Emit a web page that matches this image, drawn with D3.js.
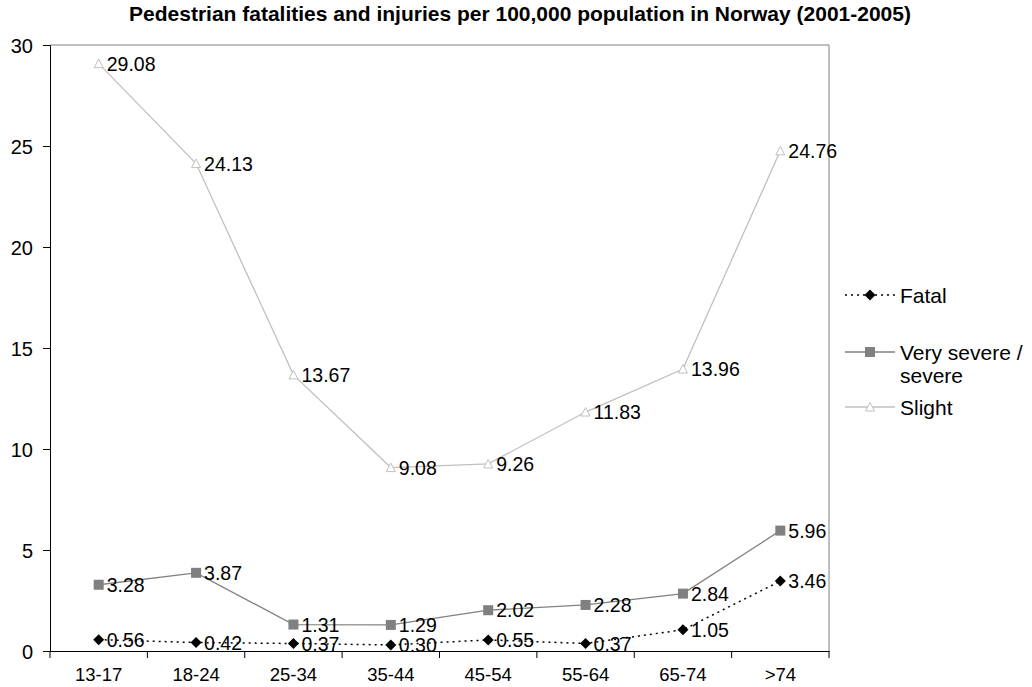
<!DOCTYPE html>
<html>
<head>
<meta charset="utf-8">
<script src="https://cdn.jsdelivr.net/npm/d3@7"></script>
<style>
  body { margin: 0; background: #fff; }
  svg { display: block; font-family: "Liberation Sans", Arial, sans-serif; }
</style>
</head>
<body>
<svg id="chart" width="1032" height="687"></svg>
<script>
// Age groups and rates per 100,000 population
const ageGroups = ["13-17", "18-24", "25-34", "35-44", "45-54", "55-64", "65-74", ">74"];
const fatal = [0.56, 0.42, 0.37, 0.30, 0.55, 0.37, 1.05, 3.46];
const severe = [3.28, 3.87, 1.31, 1.29, 2.02, 2.28, 2.84, 5.96];
const slight = [29.08, 24.13, 13.67, 9.08, 9.26, 11.83, 13.96, 24.76];
const yTicks = [0, 5, 10, 15, 20, 25, 30];
const seriesNames = ["Fatal", "Very severe / severe", "Slight"];

const FONT = "Liberation Sans, Arial, sans-serif";
const svg = d3.select("#chart");
const plot = { left: 50, top: 45, right: 829, bottom: 651 };

const x = d3.scaleBand().domain(ageGroups).range([plot.left, plot.right]);
const y = d3.scaleLinear().domain([0, 30]).range([plot.bottom, plot.top]);
const cx = d => x(d) + x.bandwidth() / 2;

// Title
svg.append("text")
  .attr("x", 520).attr("y", 21)
  .attr("text-anchor", "middle")
  .attr("font-size", 21).attr("font-weight", "bold")
  .text("Pedestrian fatalities and injuries per 100,000 population in Norway (2001-2005)");

// Plot frame (top and right edges)
svg.append("path")
  .attr("d", `M${plot.left},${plot.top}H${plot.right}V${plot.bottom}`)
  .attr("fill", "none").attr("stroke", "#808080").attr("stroke-width", 1);

// Y axis
const yAxis = svg.append("g")
  .attr("transform", `translate(${plot.left},0)`)
  .call(d3.axisLeft(y).tickValues(yTicks).tickSize(7).tickPadding(10));
yAxis.select(".domain").attr("stroke", "#000");
yAxis.selectAll(".tick line").attr("stroke", "#000");
yAxis.selectAll("text")
  .style("font-size", "20px").style("font-family", FONT)
  .attr("fill", "#000").attr("dy", "0.36em");

// X axis: ticks between categories
const xAxis = svg.append("g")
  .attr("transform", `translate(0,${plot.bottom})`)
  .call(d3.axisBottom(x).tickSize(0).tickPadding(17));
xAxis.select(".domain").attr("stroke", "#000");
xAxis.selectAll("text")
  .style("font-size", "18.5px").style("font-family", FONT)
  .attr("fill", "#000");
const boundaries = ageGroups.map(d => x(d)).concat([plot.right]);
xAxis.selectAll("line.sep").data(boundaries).enter().append("line")
  .attr("class", "sep")
  .attr("x1", d => d).attr("x2", d => d)
  .attr("y1", 0).attr("y2", 7)
  .attr("stroke", "#000");

const series = [
  { name: seriesNames[0], values: fatal, stroke: "#000", dash: "2,4", marker: "diamond" },
  { name: seriesNames[1], values: severe, stroke: "#808080", dash: null, marker: "square" },
  { name: seriesNames[2], values: slight, stroke: "#c0c0c0", dash: null, marker: "triangle" }
];

const line = d3.line().x((d, i) => cx(ageGroups[i])).y(d => y(d));

function drawMarker(g, type, px, py) {
  if (type === "diamond") {
    g.append("path")
      .attr("d", `M${px},${py - 5.5}L${px + 5.5},${py}L${px},${py + 5.5}L${px - 5.5},${py}Z`)
      .attr("fill", "#000");
  } else if (type === "square") {
    g.append("rect")
      .attr("x", px - 5).attr("y", py - 5).attr("width", 10).attr("height", 10)
      .attr("fill", "#808080");
  } else {
    g.append("path")
      .attr("d", `M${px},${py - 4.5}L${px + 4.5},${py + 4}L${px - 4.5},${py + 4}Z`)
      .attr("fill", "#fff").attr("stroke", "#c0c0c0").attr("stroke-width", 1);
  }
}

// Draw in reverse so Fatal sits on top
[...series].reverse().forEach(s => {
  const g = svg.append("g");
  g.append("path")
    .datum(s.values)
    .attr("d", line)
    .attr("fill", "none")
    .attr("stroke", s.stroke)
    .attr("stroke-width", s.dash ? 1.5 : 1.3)
    .attr("stroke-dasharray", s.dash);
  s.values.forEach((v, i) => drawMarker(g, s.marker, cx(ageGroups[i]), y(v)));
  g.selectAll("text.lbl").data(s.values).enter().append("text")
    .attr("class", "lbl")
    .attr("x", (d, i) => cx(ageGroups[i]) + 8)
    .attr("y", d => y(d) + 7)
    .attr("font-size", 19.5)
    .attr("fill", "#000")
    .text(d => d.toFixed(2));
});

// Legend
const legend = svg.append("g");
const legendRows = [
  { s: series[0], y: 295, lines: ["Fatal"] },
  { s: series[1], y: 352, lines: ["Very severe /", "severe"] },
  { s: series[2], y: 407, lines: ["Slight"] }
];
legendRows.forEach(r => {
  legend.append("line")
    .attr("x1", 845).attr("x2", 895).attr("y1", r.y).attr("y2", r.y)
    .attr("stroke", r.s.stroke).attr("stroke-width", r.s.dash ? 1.5 : 1.3)
    .attr("stroke-dasharray", r.s.dash);
  drawMarker(legend, r.s.marker, 870, r.y);
  r.lines.forEach((t, k) => {
    legend.append("text")
      .attr("x", 900).attr("y", r.y + 8 + k * 23)
      .attr("font-size", 21).attr("fill", "#000")
      .text(t);
  });
});
</script>
</body>
</html>
